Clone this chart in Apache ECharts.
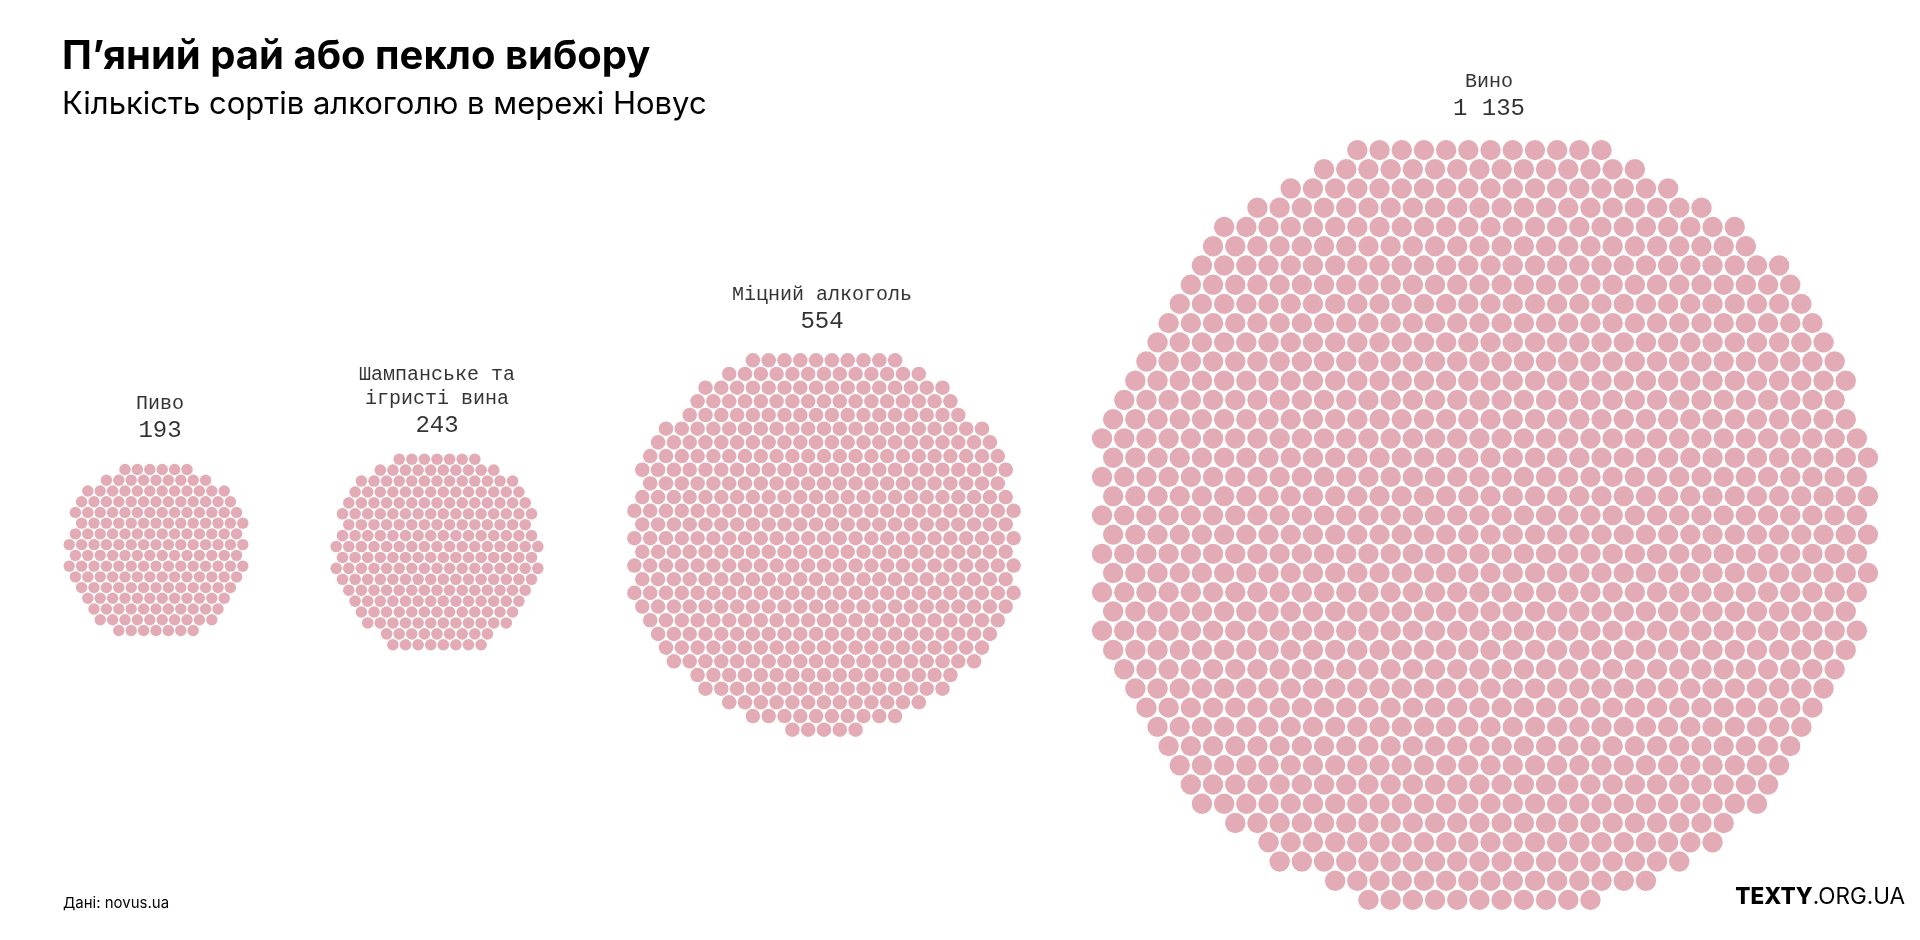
<!DOCTYPE html>
<html>
<head>
<meta charset="utf-8">
<script src="https://cdn.jsdelivr.net/npm/echarts@6/dist/echarts.min.js"></script>
<style>
  html, body { margin: 0; padding: 0; background: #ffffff; }
  #chart { width: 1920px; height: 940px; }
</style>
</head>
<body>
<div id="chart"></div>
<script>
// ---- data ----
const categories = ['Пиво', 'Шампанське та\nігристі вина', 'Міцний алкоголь', 'Вино'];
const counts = [193, 243, 554, 1135];

// ---- layout (pixel space of the 1920x940 canvas) ----
const centerX = [156, 437, 824, 1485];
const centerY = [550, 552, 545, 525];
const spacing = [12.4, 12.6, 15.8, 22.2];
const stretch = [0.99, 0.99, 1.015, 0.99];
const labelX = [160, 437, 822, 1489];
const nameY = [404, 387, 295, 82];
const numY = [431, 426, 322, 109];
const dotColor = '#e3abb5';
const roundness = 0.5;

function formatCount(v) {
  return String(v).replace(/\B(?=(\d{3})+(?!\d))/g, ' ');
}

// place n dots on a hexagonal grid: the n grid nodes nearest the cluster centre,
// measured with a blend of a 12-sided polygon distance and the plain distance;
// the grid phase giving the most compact cluster is kept.
const normals = [];
for (let a = 0; a < 12; a++) {
  const t = a * Math.PI / 6;
  normals.push([Math.cos(t), Math.sin(t)]);
}
function selectNodes(n, s, k, fx, fy) {
  const rowH = s * Math.sqrt(3) / 2;
  const R = Math.sqrt(n * rowH * s / Math.PI) + 3 * s;
  const rows = Math.ceil(R / rowH);
  const cols = Math.ceil(R / s) + 1;
  const ox = fx * s, oy = fy * rowH;
  const pts = [];
  for (let r = -rows; r <= rows; r++) {
    for (let c = -cols; c <= cols; c++) {
      const x = (c + ((r & 1) ? 0.5 : 0)) * s - ox;
      const y = r * rowH - oy;
      const xs = x / k;
      let d = -Infinity;
      for (const nv of normals) d = Math.max(d, xs * nv[0] + y * nv[1]);
      const e = Math.sqrt(xs * xs + y * y);
      pts.push([x, y, (1 - roundness) * d + roundness * e + 1e-4 * e]);
    }
  }
  pts.sort((a, b) => a[2] - b[2]);
  return pts.slice(0, n);
}
function bbox(pts) {
  let x0 = Infinity, x1 = -Infinity, y0 = Infinity, y1 = -Infinity;
  for (const p of pts) {
    x0 = Math.min(x0, p[0]); x1 = Math.max(x1, p[0]);
    y0 = Math.min(y0, p[1]); y1 = Math.max(y1, p[1]);
  }
  return { x0, x1, y0, y1, w: x1 - x0, h: y1 - y0 };
}
function hexLayout(n, s, k, cx, cy) {
  let best = null, bestScore = Infinity;
  for (let i = 0; i < 10; i++) {
    for (let j = 0; j < 10; j++) {
      const pts = selectNodes(n, s, k, i / 10 + 0.003, j / 10 + 0.007);
      const b = bbox(pts);
      const score = b.w + b.h + 0.3 * Math.abs(b.w - b.h);
      if (score < bestScore - 1e-6) { bestScore = score; best = { pts, b }; }
    }
  }
  const mx = (best.b.x0 + best.b.x1) / 2, my = (best.b.y0 + best.b.y1) / 2;
  return best.pts.map(p => [cx + p[0] - mx, cy + p[1] - my]);
}

const series = [];
categories.forEach((cat, i) => {
  series.push({
    type: 'scatter',
    name: cat,
    symbol: 'circle',
    symbolSize: spacing[i] * 0.92,
    itemStyle: { color: dotColor, opacity: 1 },
    silent: true,
    animation: false,
    data: hexLayout(counts[i], spacing[i], stretch[i], centerX[i], centerY[i])
  });
});

series.push({
  type: 'scatter',
  symbolSize: 0,
  silent: true,
  animation: false,
  label: {
    show: true,
    position: 'inside',
    formatter: p => p.data.name,
    fontFamily: 'Liberation Mono',
    fontSize: 20,
    lineHeight: 24,
    color: '#000'
  },
  data: categories.map((c, i) => ({ name: c, value: [labelX[i], nameY[i]] }))
});

series.push({
  type: 'scatter',
  symbolSize: 0,
  silent: true,
  animation: false,
  label: {
    show: true,
    position: 'inside',
    formatter: p => formatCount(p.data.count),
    fontFamily: 'Liberation Mono',
    fontSize: 24,
    color: '#000'
  },
  data: counts.map((v, i) => ({ count: v, value: [labelX[i], numY[i]] }))
});

const chart = echarts.init(document.getElementById('chart'), null, { renderer: 'canvas' });
chart.setOption({
  backgroundColor: '#ffffff',
  animation: false,
  title: [
    {
      text: 'П’яний рай або пекло вибору',
      left: 57, top: 32,
      textStyle: { fontFamily: 'Inter', fontWeight: 700, fontSize: 40, color: '#000' }
    },
    {
      text: 'Кількість сортів алкоголю в мережі Новус',
      left: 57, top: 84,
      textStyle: { fontFamily: 'Inter', fontWeight: 400, fontSize: 31, color: '#000' }
    },
    {
      text: 'Дані: novus.ua',
      left: 58, top: 891,
      textStyle: { fontFamily: 'Inter', fontWeight: 400, fontSize: 15, color: '#000' }
    },
    {
      text: '{b|TEXTY}{r|.ORG.UA}',
      right: 10, top: 881,
      textStyle: {
        rich: {
          b: { fontFamily: 'Inter', fontWeight: 800, fontSize: 22.5, color: '#000' },
          r: { fontFamily: 'Inter', fontWeight: 400, fontSize: 22.5, color: '#000' }
        }
      }
    }
  ],
  grid: { left: 0, right: 0, top: 0, bottom: 0 },
  xAxis: { type: 'value', min: 0, max: 1920, show: false },
  yAxis: { type: 'value', min: 0, max: 940, inverse: true, show: false },
  series: series
});
</script>
</body>
</html>
